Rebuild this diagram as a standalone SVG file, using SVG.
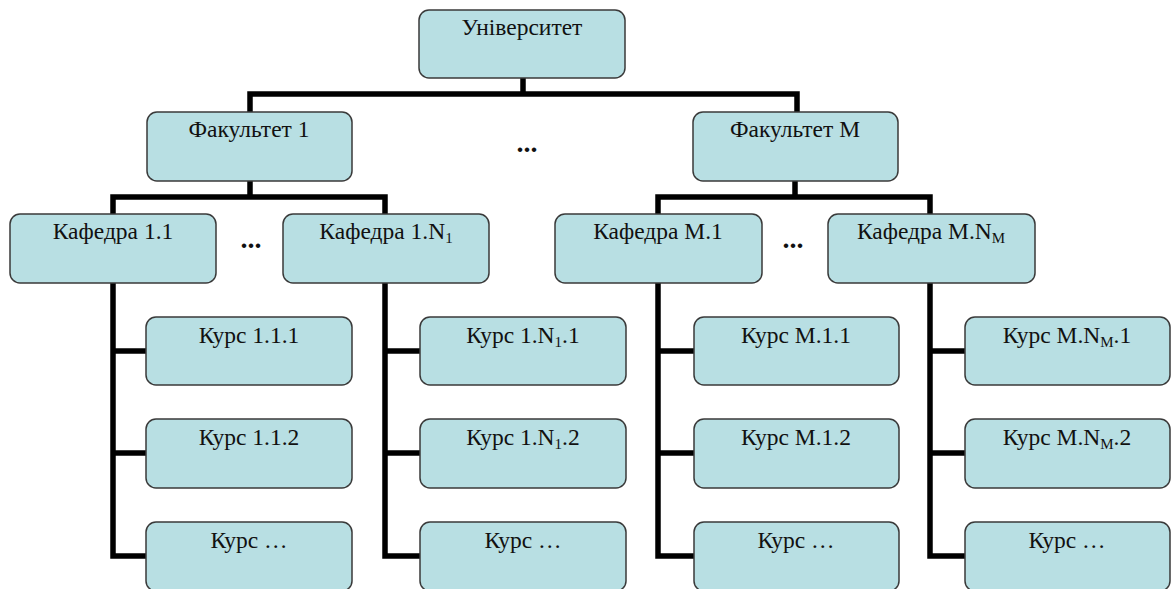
<svg xmlns="http://www.w3.org/2000/svg" width="1171" height="589" viewBox="0 0 1171 589">
<style>
.box{fill:#b8dfe3;stroke:#3a3a3a;stroke-width:1.5}
.t{font-family:"Liberation Serif","Times New Roman",serif;font-size:23.5px;fill:#111;text-anchor:middle}
.sub{font-size:15px}
.c{fill:none;stroke:#000;stroke-width:5.5;stroke-linejoin:miter;stroke-linecap:square}
.dots{font-family:"Liberation Serif",serif;font-size:28px;font-weight:bold;fill:#111;text-anchor:middle}
</style>
<rect width="1171" height="589" fill="#fff"/>
<g id="connectors">
<path class="c" d="M523 79V94M250 94H797M250 94V111M797 94V111"/>
<path class="c" d="M250 182V197M113 197H385M113 197V213M385 197V213"/>
<path class="c" d="M795 182V197M658 197H930M658 197V213M930 197V213"/>
<path class="c" d="M113 284V556H145M113 351H145M113 453H145"/>
<path class="c" d="M385 284V556H419M385 351H419M385 453H419"/>
<path class="c" d="M658 284V556H693M658 351H693M658 453H693"/>
<path class="c" d="M930 284V556H964M930 351H964M930 453H964"/>
</g>
<g id="n_univ"><rect class="box" x="419" y="10" width="206" height="68" rx="10"/><text class="t" x="522" y="35">Університет</text></g>
<g id="n_f1"><rect class="box" x="147" y="112" width="205" height="69" rx="10"/><text class="t" x="249" y="137">Факультет 1</text></g>
<g id="n_fm"><rect class="box" x="693" y="112" width="205" height="69" rx="10"/><text class="t" x="795" y="137">Факультет М</text></g>
<text class="dots" x="527" y="152">...</text>
<g id="n_k11"><rect class="box" x="10" y="214" width="206" height="69" rx="10"/><text class="t" x="113" y="239">Кафедра 1.1</text></g>
<text class="dots" x="251" y="248">...</text>
<g id="n_k1n"><rect class="box" x="283" y="214" width="206" height="69" rx="10"/><text class="t" x="386" y="239">Кафедра 1.N<tspan class="sub" dy="4">1</tspan></text></g>
<g id="n_km1"><rect class="box" x="555" y="214" width="207" height="69" rx="10"/><text class="t" x="658" y="239">Кафедра М.1</text></g>
<text class="dots" x="793" y="248">...</text>
<g id="n_kmn"><rect class="box" x="828" y="214" width="207" height="69" rx="10"/><text class="t" x="931" y="239">Кафедра М.N<tspan class="sub" dy="4">М</tspan></text></g>
<g id="n_c111"><rect class="box" x="146" y="317" width="206" height="68" rx="10"/><text class="t" x="249" y="343">Курс 1.1.1</text></g>
<g id="n_c112"><rect class="box" x="146" y="419" width="206" height="69" rx="10"/><text class="t" x="249" y="445">Курс 1.1.2</text></g>
<g id="n_c11x"><rect class="box" x="146" y="522" width="206" height="69" rx="10"/><text class="t" x="249" y="548">Курс …</text></g>
<g id="n_c1n1"><rect class="box" x="420" y="317" width="206" height="68" rx="10"/><text class="t" x="523" y="343">Курс 1.N<tspan class="sub" dy="4">1</tspan><tspan dy="-4">.1</tspan></text></g>
<g id="n_c1n2"><rect class="box" x="420" y="419" width="206" height="69" rx="10"/><text class="t" x="523" y="445">Курс 1.N<tspan class="sub" dy="4">1</tspan><tspan dy="-4">.2</tspan></text></g>
<g id="n_c1nx"><rect class="box" x="420" y="522" width="206" height="69" rx="10"/><text class="t" x="523" y="548">Курс …</text></g>
<g id="n_cm11"><rect class="box" x="694" y="317" width="205" height="68" rx="10"/><text class="t" x="796" y="343">Курс М.1.1</text></g>
<g id="n_cm12"><rect class="box" x="694" y="419" width="205" height="69" rx="10"/><text class="t" x="796" y="445">Курс М.1.2</text></g>
<g id="n_cm1x"><rect class="box" x="694" y="522" width="205" height="69" rx="10"/><text class="t" x="796" y="548">Курс …</text></g>
<g id="n_cmn1"><rect class="box" x="965" y="317" width="205" height="68" rx="10"/><text class="t" x="1067" y="343">Курс М.N<tspan class="sub" dy="4">М</tspan><tspan dy="-4">.1</tspan></text></g>
<g id="n_cmn2"><rect class="box" x="965" y="419" width="205" height="69" rx="10"/><text class="t" x="1067" y="445">Курс М.N<tspan class="sub" dy="4">М</tspan><tspan dy="-4">.2</tspan></text></g>
<g id="n_cmnx"><rect class="box" x="965" y="522" width="205" height="69" rx="10"/><text class="t" x="1067" y="548">Курс …</text></g>
</svg>
